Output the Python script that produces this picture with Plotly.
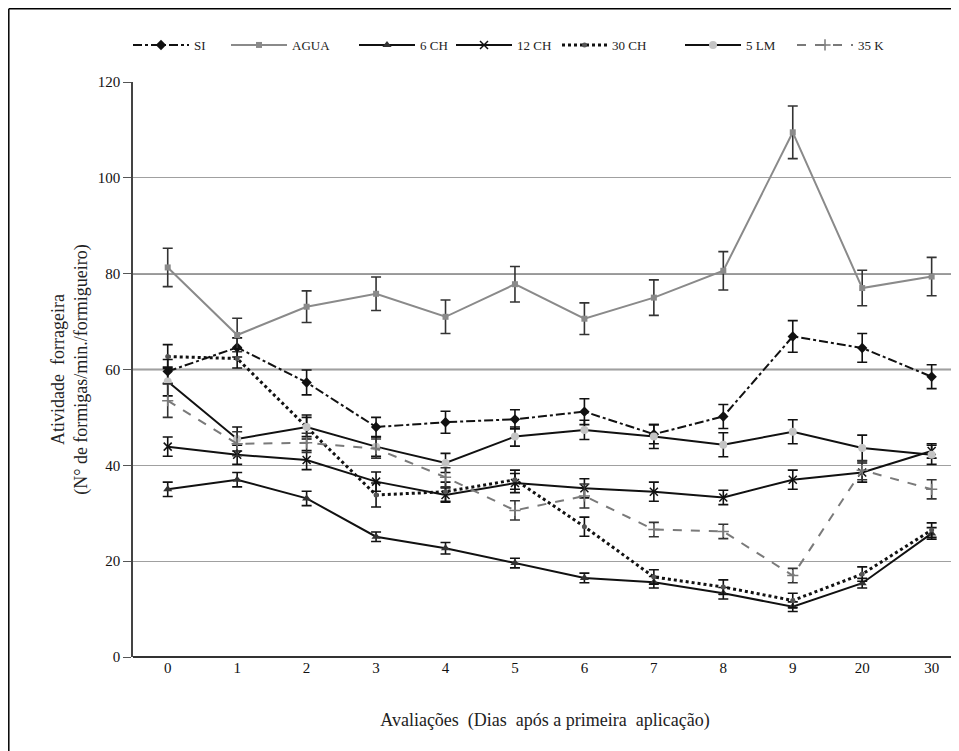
import plotly.graph_objects as go

categories = ["0", "1", "2", "3", "4", "5", "6", "7", "8", "9", "20", "30"]

si = [59.6, 64.6, 57.3, 48.0, 49.0, 49.6, 51.2, 46.5, 50.2, 66.9, 64.5, 58.5]
si_err = [2.5, 2.0, 2.6, 2.0, 2.3, 2.0, 2.7, 2.0, 2.5, 3.3, 3.0, 2.5]

agua = [81.3, 67.2, 73.1, 75.8, 71.0, 77.8, 70.6, 75.0, 80.6, 109.5, 77.0, 79.4]
agua_err = [4.0, 3.5, 3.3, 3.5, 3.5, 3.7, 3.3, 3.7, 4.0, 5.5, 3.7, 4.0]

ch6 = [35.0, 37.0, 33.1, 25.1, 22.7, 19.6, 16.5, 15.6, 13.3, 10.5, 15.4, 25.8]
ch6_err = [1.5, 1.5, 1.5, 1.0, 1.2, 1.0, 1.0, 1.2, 1.2, 1.0, 1.0, 1.2]

ch12 = [43.9, 42.2, 41.1, 36.6, 33.8, 36.3, 35.2, 34.5, 33.3, 37.0, 38.5, 43.0]
ch12_err = [2.0, 2.0, 2.0, 2.0, 1.5, 2.0, 2.0, 2.0, 1.5, 2.0, 2.0, 1.5]

ch30 = [62.7, 62.3, 48.0, 33.8, 34.5, 37.0, 27.2, 16.7, 14.6, 11.8, 17.3, 26.5]
ch30_err = [2.5, 2.0, 2.0, 2.5, 2.0, 2.0, 2.0, 1.5, 1.5, 1.5, 1.5, 1.5]

lm5 = [57.5, 45.5, 48.0, 43.9, 40.5, 46.0, 47.4, 46.0, 44.3, 47.0, 43.6, 42.2]
lm5_err = [3.0, 2.5, 2.5, 2.0, 2.0, 2.0, 2.0, 2.5, 2.5, 2.5, 2.7, 2.0]

k35 = [53.5, 44.5, 44.7, 43.5, 37.5, 30.6, 33.6, 26.6, 26.2, 17.0, 39.0, 35.0]
k35_err = [3.5, 2.5, 2.0, 2.0, 2.0, 2.0, 2.5, 1.5, 1.5, 1.5, 2.0, 2.0]

FONT = "Liberation Serif, DejaVu Serif, serif"

# page body has an 8px margin, so the figure starts at (8, 8) on screen
OFF = 8
W, H = 951, 743
L, R, T, B = 125, 2, 74, 94
PW, PH = W - L - R, H - T - B


def px_x(p):  # screen px -> paper
    return (p - OFF - L) / PW


def px_y(p):
    return (H - B - (p - OFF)) / PH


fig = go.Figure()

legend_px = [128, 226, 354, 451, 557, 680, 792]
legend_iw = [56, 56, 56, 56, 45, 56, 56]


def add(idx, name, y, err, lcolor, dash, width, msym, msize, mcolor, ecolor, mline=0):
    lg = "legend" if idx == 0 else "legend%d" % (idx + 1)
    fig.add_trace(go.Scatter(
        x=categories, y=y, name=name, mode="lines+markers", legend=lg,
        line=dict(color=lcolor, dash=dash, width=width),
        marker=dict(symbol=msym, size=msize, color=mcolor,
                    line=dict(color=mcolor, width=mline)),
        error_y=dict(type="data", array=err, visible=True,
                     color=ecolor, thickness=1.6, width=5),
    ))


add(0, "SI", si, si_err, "#111111", "dashdot", 2, "diamond", 8, "#111111", "#111111")
add(1, "AGUA", agua, agua_err, "#8a8a8a", "solid", 2, "square", 6, "#8a8a8a", "#333333")
add(2, "6 CH", ch6, ch6_err, "#111111", "solid", 2, "triangle-up", 8, "#333333", "#111111")
add(3, "12 CH", ch12, ch12_err, "#111111", "solid", 2, "x-thin-open", 8, "#111111", "#111111", 1.5)
add(4, "30 CH", ch30, ch30_err, "#111111", "dot", 3, "circle", 5, "#555555", "#111111")
add(5, "5 LM", lm5, lm5_err, "#111111", "solid", 2, "circle", 8, "#c4c4c4", "#111111")
add(6, "35 K", k35, k35_err, "#7a7a7a", "dash", 2, "cross-thin-open", 8, "#7a7a7a", "#333333", 1.5)

shapes = [
    dict(type="line", xref="paper", yref="y", x0=0, x1=1, y0=v, y1=v,
         line=dict(color="#333333", width=1.5), layer="below")
    for v in (60, 80)
]
shapes += [
    dict(type="line", xref="paper", yref="paper", x0=px_x(8.8), x1=px_x(970),
         y0=px_y(8.8), y1=px_y(8.8), line=dict(color="#000000", width=1.5)),
    dict(type="line", xref="paper", yref="paper", x0=px_x(8.8), x1=px_x(8.8),
         y0=px_y(8.8), y1=px_y(760), line=dict(color="#000000", width=1.5)),
]

legends = {}
for i, p in enumerate(legend_px):
    key = "legend" if i == 0 else "legend%d" % (i + 1)
    legends[key] = dict(
        orientation="h", x=px_x(p), y=px_y(45), xanchor="left", yanchor="middle",
        font=dict(family=FONT, size=13, color="#222222"),
        itemwidth=legend_iw[i], bgcolor="rgba(0,0,0,0)",
    )

fig.update_layout(
    width=W, height=H,
    paper_bgcolor="white", plot_bgcolor="white",
    margin=dict(l=L, r=R, t=T, b=B, autoexpand=False),
    font=dict(family=FONT, size=14, color="#222222"),
    showlegend=True,
    shapes=shapes,
    xaxis=dict(
        type="category", range=[-0.5, 11.365],
        showgrid=False, showline=False, zeroline=False,
        ticks="", tickfont=dict(family=FONT, size=15, color="#111111"),
        title=dict(text="Avaliações  (Dias  após a primeira  aplicação)",
                   font=dict(family=FONT, size=18, color="#222222"), standoff=38),
    ),
    yaxis=dict(
        range=[0, 120], dtick=20,
        showgrid=True, gridcolor="#a0a0a0", gridwidth=1.2,
        showline=True, linecolor="#444444", linewidth=1.5,
        zeroline=True, zerolinecolor="#333333", zerolinewidth=1.5,
        ticks="outside", ticklen=8, tickcolor="#555555",
        tickfont=dict(family=FONT, size=15, color="#111111"),
        title=dict(text="Atividade  forrageira<br>(N° de formigas/min./formigueiro)",
                   font=dict(family=FONT, size=18, color="#222222"), standoff=5),
    ),
    **legends,
)

fig.write_html("out.html")
